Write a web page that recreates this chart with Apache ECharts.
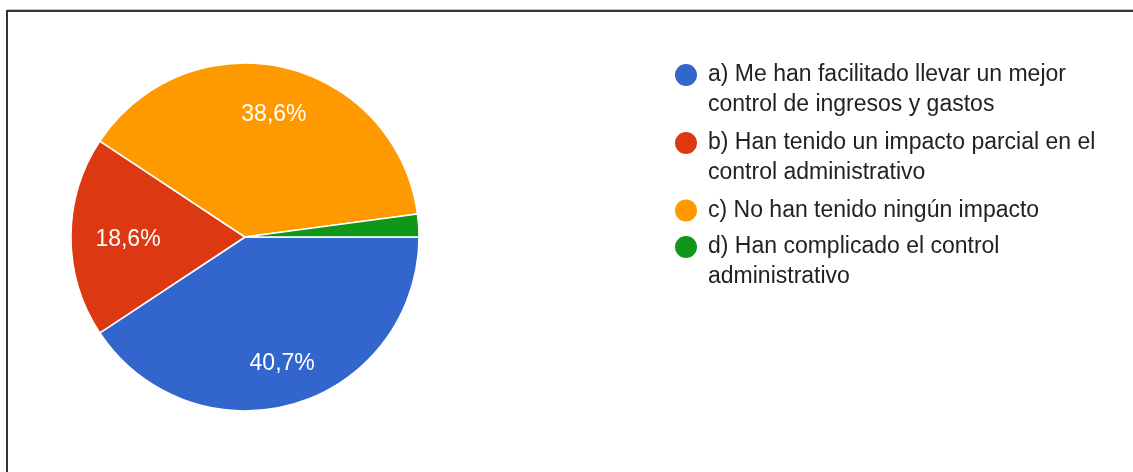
<!DOCTYPE html>
<html>
<head>
<meta charset="utf-8">
<script src="https://cdn.jsdelivr.net/npm/echarts@6/dist/echarts.min.js"></script>
<style>
  html, body { margin: 0; padding: 0; background: #fff; }
  #chart { width: 1133px; height: 472px; }
</style>
</head>
<body>
<div id="chart"></div>
<script>
// Answer options, as written in the survey
const categories = [
  'a) Me han facilitado llevar un mejor control de ingresos y gastos',
  'b) Han tenido un impacto parcial en el control administrativo',
  'c) No han tenido ningún impacto',
  'd) Han complicado el control administrativo'
];
// Same options broken into the lines shown in the legend
const legendLines = [
  ['a) Me han facilitado llevar un mejor', 'control de ingresos y gastos'],
  ['b) Han tenido un impacto parcial en el', 'control administrativo'],
  ['c) No han tenido ningún impacto'],
  ['d) Han complicado el control', 'administrativo']
];
// Share of responses (%)
const shares = [40.7, 18.6, 38.6, 2.1];
const colors = ['#3366cc', '#dc3912', '#ff9900', '#109618'];

const FONT = '"Liberation Sans", Arial, sans-serif';
const R = 174;
const LINE_H = 30;
const DOT = 22;
// vertical centre of the first line of each legend entry
const legendRowY = [75, 143, 210.5, 247];

// horizontal nudges for the percentage text inside each slice
const labelPadding = [0, [0, 0, 0, 24], 0, 0];

const sliceData = categories.map((name, i) => ({
  name,
  value: shares[i],
  itemStyle: { color: colors[i] }
}));

// Percentages sit on a transparent ring so they land near the outer part of each slice
const labelData = categories.map((name, i) => ({
  name,
  value: shares[i],
  label: { show: shares[i] >= 5, padding: labelPadding[i] }
}));

// Marker for an entry: a dot level with the first text line, inside a box as tall as the
// centred text block needs (the text block is centred on the marker box).
function markerFor(lines) {
  const h = lines * LINE_H - LINE_H + DOT;
  const r = DOT / 2;
  if (lines === 1) return { icon: 'circle', h: DOT };
  return {
    icon: `path://M0,${r}a${r},${r} 0 1,0 ${DOT},0a${r},${r} 0 1,0 -${DOT},0Z M${r - 0.1},${h}L${r + 0.1},${h}Z`,
    h
  };
}

const legends = categories.map((name, i) => {
  const m = markerFor(legendLines[i].length);
  return {
    orient: 'vertical',
    left: 675,
    top: legendRowY[i] - LINE_H / 2,
    padding: 0,
    itemWidth: DOT,
    itemHeight: m.h,
    selectedMode: false,
    itemStyle: { borderWidth: 0 },
    data: [{ name, icon: m.icon }],
    formatter: (n) => legendLines[categories.indexOf(n)].join('\n'),
    textStyle: {
      fontFamily: FONT,
      fontSize: 23,
      lineHeight: LINE_H,
      color: '#222222',
      padding: [0, 0, 0, 6]
    }
  };
});

const chart = echarts.init(document.getElementById('chart'), null, { renderer: 'canvas' });
chart.setOption({
  backgroundColor: '#ffffff',
  animation: false,
  color: colors,
  legend: legends,
  graphic: [
    { type: 'rect', shape: { x: 7, y: 9, width: 1126, height: 1 }, style: { fill: '#c4c4c4' }, silent: true },
    { type: 'rect', shape: { x: 6, y: 10, width: 1127, height: 2 }, style: { fill: '#333333' }, silent: true },
    { type: 'rect', shape: { x: 6, y: 10, width: 2, height: 462 }, style: { fill: '#333333' }, silent: true }
  ],
  series: [
    {
      name: 'respuestas',
      type: 'pie',
      center: [245, 237],
      radius: [0, R],
      startAngle: 0,
      clockwise: true,
      avoidLabelOverlap: false,
      label: { show: false },
      labelLine: { show: false },
      emphasis: { disabled: true },
      itemStyle: { borderColor: '#ffffff', borderWidth: 1.5 },
      data: sliceData
    },
    {
      name: 'porcentajes',
      type: 'pie',
      center: [245, 240],
      radius: [78, R],
      startAngle: 0,
      clockwise: true,
      silent: true,
      avoidLabelOverlap: false,
      legendHoverLink: false,
      itemStyle: { color: 'rgba(0,0,0,0)', borderWidth: 0 },
      labelLine: { show: false },
      emphasis: { disabled: true },
      label: {
        position: 'inside',
        color: '#ffffff',
        fontFamily: FONT,
        fontSize: 23,
        formatter: (p) => p.value.toFixed(1).replace('.', ',') + '%'
      },
      data: labelData
    }
  ]
});
</script>
</body>
</html>
